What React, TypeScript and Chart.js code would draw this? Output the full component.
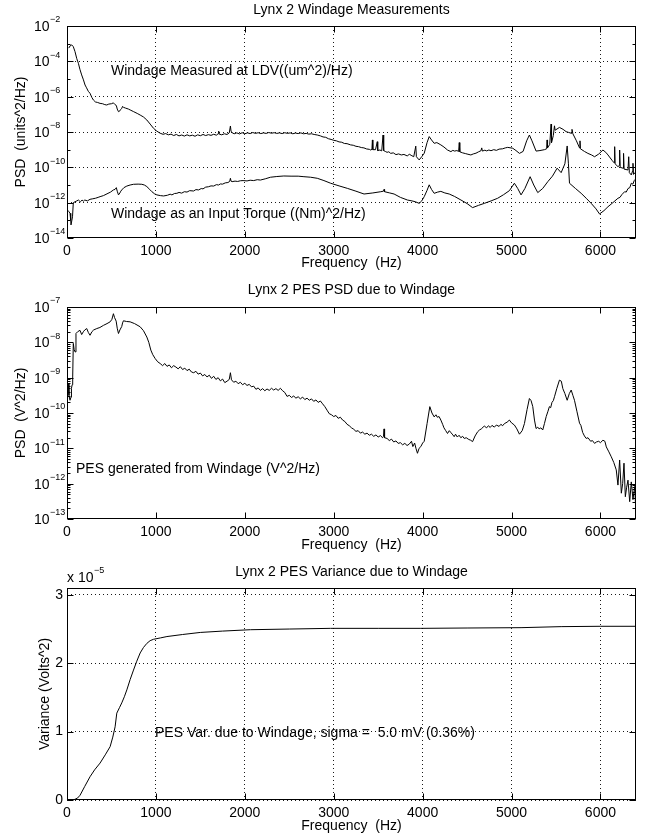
import React, { useEffect, useRef } from "react";
import { Chart, registerables } from "chart.js";

Chart.register(...registerables);

const FONT = '"Liberation Sans", Arial, Helvetica, sans-serif';

// ---------- shared axis data ----------
const freqTicks = [0, 1000, 2000, 3000, 4000, 5000, 6000];

// ---------- panel 1: Lynx 2 Windage Measurements (log10 of PSD) ----------
const topTitle = "Lynx 2 Windage Measurements";
const topYLabel = "PSD  (units^2/Hz)";
const topLabelExps = [-2, -4, -6, -8, -10, -12, -14];
const topGridExps = [-4, -6, -8, -10, -12];
const topMinorExps = [-3, -5, -7, -9, -11, -13];
const ldvLabel = "Windage Measured at LDV((um^2)/Hz)";
const torqueLabel = "Windage as an Input Torque ((Nm)^2/Hz)";

// [frequency Hz, log10 PSD]
const ldvPsdLog10: [number, number][] = [
  [20, -3.25], [34, -3.13], [53, -3.07], [71, -3.17], [90, -3.45], [110, -3.85], [128, -4.11], [145, -4.45],
  [165, -4.77], [185, -5.05], [203, -5.34], [220, -5.5], [240, -5.7], [259, -5.81], [280, -6.05], [297, -6.19],
  [320, -6.3], [345, -6.33], [372, -6.38], [400, -6.4], [425, -6.45], [447, -6.47], [470, -6.42], [500, -6.4],
  [522, -6.35], [540, -6.45], [555, -6.5], [565, -6.7], [579, -6.85], [595, -6.8], [605, -6.72], [616, -6.66],
  [625, -6.55], [634, -6.6], [660, -6.65], [690, -6.7], [710, -6.75], [750, -6.85], [790, -6.95], [823, -7.04],
  [860, -7.15], [898, -7.32], [935, -7.55], [973, -7.79], [1010, -7.95], [1048, -8.07], [1080, -8.13], [1110, -8.09],
  [1140, -8.16], [1170, -8.12], [1200, -8.2], [1230, -8.14], [1260, -8.22], [1290, -8.17], [1320, -8.23], [1350, -8.16],
  [1380, -8.22], [1410, -8.18], [1440, -8.24], [1470, -8.16], [1500, -8.21], [1530, -8.14], [1560, -8.2], [1590, -8.15],
  [1620, -8.19], [1650, -8.13], [1680, -8.18], [1700, -8.1], [1706, -7.95], [1712, -8.12], [1740, -8.16], [1770, -8.1],
  [1800, -8.14], [1825, -8.05], [1838, -7.66], [1845, -7.95], [1857, -8.04], [1880, -8.1], [1910, -8.05], [1940, -8.11],
  [1970, -8.04], [2000, -8.1], [2030, -8.05], [2060, -8.09], [2090, -8.03], [2120, -8.08], [2150, -8.04], [2180, -8.09],
  [2210, -8.05], [2240, -8.08], [2270, -8.03], [2300, -8.07], [2330, -8.04], [2360, -8.08], [2390, -8.05], [2420, -8.09],
  [2450, -8.04], [2480, -8.08], [2510, -8.05], [2540, -8.1], [2570, -8.06], [2600, -8.09], [2630, -8.05], [2660, -8.1],
  [2690, -8.08], [2720, -8.12], [2750, -8.1], [2780, -8.14], [2815, -8.17], [2850, -8.22], [2880, -8.28], [2910, -8.3],
  [2940, -8.38], [2970, -8.42], [3000, -8.47], [3030, -8.5], [3060, -8.56], [3090, -8.58], [3120, -8.65], [3150, -8.66],
  [3190, -8.73], [3220, -8.75], [3250, -8.81], [3280, -8.83], [3310, -8.88], [3340, -8.9], [3370, -8.96], [3400, -8.98],
  [3416, -9.02], [3430, -8.98], [3435, -8.45], [3440, -9.0], [3470, -9.0], [3490, -8.55], [3495, -9.05], [3520, -9.02],
  [3540, -9.07], [3555, -8.17], [3562, -9.05], [3580, -9.1], [3600, -9.15], [3620, -9.12], [3641, -9.21], [3670, -9.18],
  [3700, -9.28], [3730, -9.24], [3760, -9.3], [3790, -9.27], [3829, -9.36], [3850, -9.25], [3870, -9.32], [3900, -9.4],
  [3923, -8.8], [3930, -9.4], [3961, -9.58], [3990, -9.4], [4018, -9.2], [4050, -8.6], [4074, -8.26], [4100, -8.45],
  [4130, -8.64], [4160, -8.6], [4205, -8.73], [4240, -8.85], [4280, -9.02], [4318, -9.11], [4340, -9.04], [4360, -9.08],
  [4385, -9.05], [4405, -9.1], [4412, -8.6], [4418, -9.12], [4450, -9.18], [4480, -9.22], [4510, -9.26], [4543, -9.3],
  [4570, -9.24], [4600, -9.2], [4630, -9.12], [4656, -9.06], [4665, -8.9], [4672, -9.08], [4700, -9.03], [4720, -9.07],
  [4745, -9.02], [4769, -9.06], [4800, -9.0], [4830, -9.04], [4860, -8.97], [4900, -8.95], [4930, -8.9], [4957, -8.87],
  [5014, -8.92], [5050, -9.05], [5089, -9.21], [5130, -9.1], [5170, -8.5], [5201, -8.17], [5230, -8.5], [5276, -9.08],
  [5320, -9.05], [5370, -9.0], [5395, -8.95], [5400, -8.45], [5405, -8.9], [5430, -8.7], [5445, -7.55], [5450, -8.6],
  [5470, -8.2], [5483, -7.65], [5490, -7.9], [5539, -7.74], [5580, -7.85], [5614, -7.98], [5640, -8.02], [5671, -8.07],
  [5680, -7.85], [5690, -8.1], [5730, -8.5], [5765, -8.9], [5770, -8.5], [5775, -8.95], [5820, -9.1], [5859, -9.21],
  [5900, -9.3], [5934, -9.4], [5980, -9.25], [6028, -9.02], [6060, -9.15], [6085, -9.3], [6130, -9.6], [6155, -9.75],
  [6160, -8.83], [6165, -9.8], [6197, -9.96], [6212, -9.9], [6216, -9.02], [6222, -10.0], [6254, -10.05], [6260, -9.21],
  [6266, -10.1], [6310, -10.15], [6318, -9.4], [6325, -10.3], [6347, -10.43], [6362, -10.2], [6366, -9.77], [6372, -10.4],
  [6390, -10.3], [6404, -10.5],
];

const torquePsdLog10: [number, number][] = [
  [3, -12.41], [20, -12.5], [34, -12.6], [42, -13.0], [45, -13.26], [56, -13.26], [62, -12.8], [71, -12.0],
  [90, -11.95], [110, -11.9], [128, -11.85], [150, -11.95], [170, -11.85], [184, -11.92], [200, -11.85], [230, -11.9],
  [259, -11.81], [290, -11.78], [320, -11.75], [350, -11.7], [372, -11.66], [410, -11.6], [450, -11.5], [490, -11.4],
  [522, -11.28], [540, -11.25], [555, -11.15], [565, -11.35], [579, -11.56], [595, -11.45], [605, -11.35], [616, -11.28],
  [640, -11.15], [673, -11.06], [710, -11.0], [748, -10.96], [800, -10.95], [841, -10.96], [870, -11.0], [898, -11.09],
  [930, -11.25], [955, -11.38], [985, -11.5], [1011, -11.56], [1050, -11.6], [1086, -11.62], [1130, -11.58], [1160, -11.52],
  [1180, -11.56], [1210, -11.48], [1236, -11.47], [1260, -11.42], [1290, -11.46], [1320, -11.38], [1350, -11.4], [1380, -11.32],
  [1424, -11.34], [1450, -11.26], [1480, -11.28], [1510, -11.2], [1530, -11.22], [1560, -11.12], [1590, -11.1], [1620, -11.05],
  [1650, -11.06], [1680, -10.98], [1705, -11.0], [1725, -10.94], [1750, -10.95], [1780, -10.88], [1810, -10.86], [1830, -10.8],
  [1838, -10.62], [1845, -10.78], [1857, -10.81], [1890, -10.78], [1920, -10.8], [1950, -10.76], [1980, -10.75], [2025, -10.77],
  [2060, -10.73], [2100, -10.75], [2140, -10.7], [2175, -10.72], [2230, -10.65], [2289, -10.56], [2360, -10.52], [2439, -10.49],
  [2520, -10.5], [2600, -10.5], [2665, -10.53], [2740, -10.56], [2815, -10.62], [2890, -10.75], [2965, -10.9], [3060, -11.05],
  [3153, -11.19], [3250, -11.35], [3341, -11.51], [3440, -11.45], [3529, -11.38], [3560, -11.35], [3566, -11.25], [3572, -11.38],
  [3630, -11.45], [3679, -11.51], [3750, -11.7], [3829, -11.85], [3880, -11.9], [3920, -11.95], [3961, -12.04], [3990, -11.9],
  [4018, -11.66], [4050, -11.3], [4074, -10.99], [4100, -11.25], [4130, -11.47], [4170, -11.4], [4205, -11.36], [4250, -11.45],
  [4299, -11.51], [4360, -11.65], [4431, -11.85], [4500, -12.05], [4562, -12.28], [4630, -12.15], [4694, -12.04], [4770, -11.9],
  [4844, -11.75], [4910, -11.55], [4976, -11.32], [5032, -10.9], [5070, -11.2], [5107, -11.56], [5150, -11.2], [5209, -10.53],
  [5250, -11.0], [5295, -11.43], [5350, -11.2], [5408, -10.81], [5460, -10.5], [5513, -10.05], [5558, -10.3], [5600, -9.8],
  [5626, -8.79], [5640, -9.8], [5652, -10.9], [5720, -11.2], [5783, -11.47], [5840, -11.75], [5896, -12.04], [5950, -12.35],
  [5990, -12.64], [6040, -12.45], [6085, -12.23], [6140, -12.0], [6197, -11.75], [6220, -11.7], [6240, -11.55], [6272, -11.38],
  [6290, -11.4], [6310, -11.2], [6330, -11.15], [6347, -10.9], [6365, -10.95], [6380, -10.75], [6404, -10.62],
];

// ---------- panel 2: Lynx 2 PES PSD due to Windage (log10 of PSD) ----------
const midTitle = "Lynx 2 PES PSD due to Windage";
const midYLabel = "PSD  (V^2/Hz)";
const midLabelExps = [-7, -8, -9, -10, -11, -12, -13];
const pesLabel = "PES generated from Windage (V^2/Hz)";

const pesPsdLog10: [number, number][] = [
  [0, -9.6], [3, -9.54], [10, -9.2], [15, -9.16], [22, -9.5], [34, -9.64], [45, -9.55], [50, -9.3],
  [58, -9.2], [64, -8.98], [71, -8.03], [80, -8.2], [90, -8.27], [101, -7.75], [120, -7.7], [146, -7.66],
  [165, -7.78], [184, -7.7], [200, -7.65], [222, -7.61], [240, -7.72], [259, -7.8], [280, -7.7], [300, -7.65],
  [335, -7.61], [370, -7.58], [410, -7.52], [450, -7.47], [485, -7.42], [505, -7.35], [522, -7.19], [535, -7.3],
  [553, -7.4], [565, -7.6], [579, -7.75], [595, -7.65], [616, -7.55], [625, -7.45], [635, -7.39], [670, -7.41],
  [710, -7.42], [760, -7.47], [823, -7.56], [860, -7.67], [898, -7.85], [920, -8.0], [943, -8.22], [965, -8.35],
  [992, -8.46], [1020, -8.55], [1048, -8.6], [1075, -8.66], [1100, -8.6], [1125, -8.68], [1150, -8.64], [1175, -8.72],
  [1200, -8.66], [1225, -8.7], [1250, -8.75], [1275, -8.69], [1300, -8.77], [1325, -8.73], [1350, -8.8], [1375, -8.76],
  [1400, -8.84], [1425, -8.86], [1450, -8.82], [1475, -8.9], [1500, -8.87], [1525, -8.95], [1550, -8.91], [1575, -8.98],
  [1600, -8.93], [1625, -9.02], [1650, -8.96], [1675, -9.05], [1700, -9.0], [1725, -9.09], [1750, -9.04], [1775, -9.14],
  [1800, -9.1], [1825, -9.05], [1838, -8.86], [1850, -9.06], [1875, -9.13], [1900, -9.1], [1925, -9.17], [1950, -9.13],
  [1975, -9.2], [2000, -9.16], [2025, -9.22], [2050, -9.19], [2075, -9.26], [2100, -9.24], [2125, -9.33], [2150, -9.29],
  [2175, -9.36], [2200, -9.31], [2225, -9.37], [2250, -9.32], [2275, -9.36], [2300, -9.3], [2325, -9.35], [2350, -9.31],
  [2375, -9.36], [2400, -9.3], [2425, -9.37], [2450, -9.42], [2475, -9.53], [2500, -9.5], [2525, -9.56], [2550, -9.52],
  [2575, -9.58], [2600, -9.54], [2625, -9.6], [2650, -9.55], [2675, -9.62], [2700, -9.58], [2725, -9.64], [2750, -9.6],
  [2775, -9.67], [2800, -9.63], [2825, -9.7], [2850, -9.66], [2875, -9.74], [2900, -9.82], [2925, -9.92], [2950, -10.02],
  [2975, -10.05], [3000, -10.1], [3025, -10.07], [3050, -10.15], [3075, -10.12], [3100, -10.2], [3125, -10.24], [3150, -10.32],
  [3175, -10.36], [3200, -10.42], [3225, -10.46], [3250, -10.52], [3275, -10.5], [3300, -10.57], [3325, -10.54], [3350, -10.6],
  [3375, -10.57], [3400, -10.63], [3425, -10.6], [3450, -10.66], [3475, -10.62], [3500, -10.68], [3525, -10.64], [3550, -10.7],
  [3560, -10.66], [3566, -10.45], [3572, -10.7], [3600, -10.72], [3625, -10.78], [3650, -10.74], [3675, -10.82], [3700, -10.79],
  [3725, -10.86], [3750, -10.84], [3775, -10.9], [3800, -10.86], [3825, -10.92], [3850, -10.88], [3875, -10.8], [3890, -10.95],
  [3910, -10.85], [3925, -11.0], [3942, -11.14], [3960, -11.0], [3980, -10.95], [4000, -10.85], [4018, -10.8], [4050, -10.3],
  [4081, -9.82], [4105, -10.0], [4130, -10.11], [4150, -10.05], [4165, -10.12], [4185, -10.1], [4205, -10.2], [4225, -10.32],
  [4240, -10.42], [4260, -10.5], [4280, -10.58], [4300, -10.5], [4320, -10.56], [4340, -10.62], [4355, -10.67], [4370, -10.6],
  [4390, -10.68], [4410, -10.63], [4430, -10.7], [4450, -10.66], [4468, -10.72], [4490, -10.7], [4520, -10.75], [4540, -10.77],
  [4562, -10.81], [4590, -10.65], [4619, -10.53], [4640, -10.48], [4660, -10.45], [4680, -10.4], [4694, -10.37], [4720, -10.42],
  [4740, -10.36], [4760, -10.41], [4780, -10.35], [4807, -10.4], [4830, -10.34], [4860, -10.38], [4880, -10.32], [4900, -10.36],
  [4920, -10.3], [4950, -10.26], [4976, -10.2], [5000, -10.28], [5032, -10.34], [5060, -10.45], [5089, -10.6], [5120, -10.5],
  [5145, -10.3], [5175, -9.9], [5201, -9.59], [5220, -9.65], [5239, -9.82], [5258, -10.2], [5276, -10.44], [5295, -10.4],
  [5310, -10.45], [5330, -10.42], [5351, -10.48], [5370, -10.3], [5390, -10.1], [5410, -9.95], [5426, -9.82], [5440, -9.85],
  [5455, -9.7], [5470, -9.65], [5483, -9.54], [5510, -9.3], [5539, -9.07], [5560, -9.1], [5577, -9.31], [5600, -9.45],
  [5626, -9.64], [5650, -9.45], [5671, -9.35], [5690, -9.5], [5708, -9.64], [5735, -9.95], [5765, -10.29], [5780, -10.35],
  [5800, -10.55], [5820, -10.65], [5840, -10.72], [5860, -10.7], [5890, -10.8], [5910, -10.78], [5934, -10.86], [5955, -10.82],
  [5980, -10.8], [6000, -10.84], [6028, -10.77], [6050, -10.8], [6066, -10.96], [6095, -11.1], [6122, -11.24], [6150, -11.4],
  [6178, -11.61], [6197, -12.04], [6216, -11.33], [6235, -12.27], [6250, -12.0], [6265, -11.42], [6280, -12.37], [6295, -12.1],
  [6310, -11.9], [6329, -12.51], [6347, -11.95], [6366, -12.45], [6385, -12.08], [6395, -12.6], [6404, -12.74],
];

// ---------- panel 3: Lynx 2 PES Variance due to Windage (units of 1e-5 V^2) ----------
const botTitle = "Lynx 2 PES Variance due to Windage";
const botYLabel = "Variance (Volts^2)";
const botYTicks = [0, 1, 2, 3];
const varLabel = "PES Var. due to Windage, sigma =  5.0 mV (0.36%)";

const varianceE5: [number, number][] = [
  [0, 0], [60, 0], [90, 0.01], [120, 0.03], [147, 0.07], [200, 0.2], [259, 0.34], [310, 0.44],
  [372, 0.54], [430, 0.66], [485, 0.78], [515, 0.92], [541, 1.07], [560, 1.27], [590, 1.35], [616, 1.42],
  [645, 1.51], [673, 1.61], [710, 1.76], [748, 1.9], [785, 2.03], [823, 2.15], [860, 2.23], [898, 2.29],
  [935, 2.33], [973, 2.35], [1050, 2.37], [1124, 2.39], [1300, 2.42], [1499, 2.45], [1750, 2.47], [2063, 2.49],
  [2500, 2.5], [2965, 2.51], [3500, 2.51], [3980, 2.51], [4500, 2.515], [5107, 2.52], [5558, 2.535], [6000, 2.54],
  [6400, 2.54],
];

const W = 649;
const H = 280;

type Annot = { text: string; x: number; y: number };

function drawPow(ctx: CanvasRenderingContext2D, x: number, y: number, exp: number, lead = "10") {
  ctx.textAlign = "left";
  ctx.textBaseline = "middle";
  ctx.font = `14px ${FONT}`;
  ctx.fillText(lead, x, y + 1);
  const w = ctx.measureText(lead).width;
  ctx.font = `9px ${FONT}`;
  ctx.fillText((exp < 0 ? "\u2212" : "") + Math.abs(exp), x + w + 0.5, y - 6);
}

function makeFrame(opts: {
  id: string;
  yMajor: number[];
  yMinor: number[];
  logLabels?: number[];
  annots: Annot[];
  extra?: (ctx: CanvasRenderingContext2D) => void;
}) {
  return {
    id: opts.id,
    afterDatasetsDraw(chart: any) {
      const { ctx, chartArea: a, scales } = chart;
      const xs = scales.x;
      const ys = scales.y;
      ctx.save();
      ctx.strokeStyle = "#000";
      ctx.fillStyle = "#000";
      ctx.lineWidth = 1;
      const L = Math.round(a.left) + 0.5;
      const R = Math.round(a.right) - 0.5;
      const T = Math.round(a.top) + 0.5;
      const B = Math.round(a.bottom) - 0.5;
      ctx.setLineDash([]);
      ctx.strokeRect(L, T, R - L, B - T);
      ctx.beginPath();
      for (const v of freqTicks) {
        const px = Math.round(xs.getPixelForValue(v)) + 0.5;
        ctx.moveTo(px, B);
        ctx.lineTo(px, B - 6);
        ctx.moveTo(px, T);
        ctx.lineTo(px, T + 6);
      }
      for (const v of opts.yMajor) {
        const py = Math.round(ys.getPixelForValue(v)) + 0.5;
        ctx.moveTo(L, py);
        ctx.lineTo(L + 6, py);
        ctx.moveTo(R, py);
        ctx.lineTo(R - 6, py);
      }
      for (const v of opts.yMinor) {
        const py = Math.round(ys.getPixelForValue(v)) + 0.5;
        ctx.moveTo(L, py);
        ctx.lineTo(L + 3, py);
        ctx.moveTo(R, py);
        ctx.lineTo(R - 3, py);
      }
      ctx.stroke();
      if (opts.logLabels) {
        for (const e of opts.logLabels) {
          const py = ys.getPixelForValue(Math.pow(10, e));
          drawPow(ctx, 34, py, e);
        }
      }
      ctx.font = `14px ${FONT}`;
      ctx.textAlign = "left";
      ctx.textBaseline = "middle";
      for (const an of opts.annots) ctx.fillText(an.text, an.x, an.y);
      if (opts.extra) opts.extra(ctx);
      ctx.restore();
    },
  };
}

function baseOptions(p: {
  title: string;
  titlePad: { top: number; bottom: number };
  xHeight: number;
  xTitlePad: number;
  yTitle: string;
  yTitlePad: number;
  y: any;
  grid: boolean;
}) {
  const font = { family: FONT, size: 14 };
  const gridOpts = { display: p.grid, drawTicks: false, color: "rgba(0,0,0,0.9)", lineWidth: 1 };
  return {
    responsive: false,
    animation: false as const,
    events: [],
    layout: { padding: { left: 0, right: 13, top: 0, bottom: 0 } },
    plugins: {
      legend: { display: false },
      tooltip: { enabled: false },
      title: {
        display: true,
        text: p.title,
        color: "#000",
        fullSize: false,
        font: { ...font, weight: "normal" as const },
        padding: p.titlePad,
      },
    },
    scales: {
      x: {
        type: "linear" as const,
        min: 0,
        max: 6400,
        afterBuildTicks: (s: any) => {
          s.ticks = freqTicks.map((v) => ({ value: v }));
        },
        afterFit: (s: any) => {
          s.height = p.xHeight;
        },
        grid: gridOpts,
        border: { display: false, dash: [1, 3] },
        ticks: {
          color: "#000",
          font,
          padding: 5,
          maxRotation: 0,
          autoSkip: false,
          callback: (v: any) => String(v),
        },
        title: {
          display: true,
          text: "Frequency  (Hz)",
          color: "#000",
          font,
          padding: { top: 0, bottom: p.xTitlePad },
        },
      },
      y: {
        ...p.y,
        afterFit: (s: any) => {
          s.width = 67;
        },
        grid: gridOpts,
        border: { display: false, dash: [1, 3] },
        title: {
          display: true,
          text: p.yTitle,
          color: "#000",
          font,
          padding: { top: p.yTitlePad, bottom: 0 },
        },
      },
    },
  };
}

function lineDs(points: [number, number][], log: boolean) {
  return {
    data: points.map(([f, v]) => ({ x: f, y: log ? Math.pow(10, v) : v })),
    borderColor: "#000",
    borderWidth: 1,
    pointRadius: 0,
    tension: 0,
    fill: false,
  };
}

export default function App() {
  const r1 = useRef<HTMLCanvasElement>(null);
  const r2 = useRef<HTMLCanvasElement>(null);
  const r3 = useRef<HTMLCanvasElement>(null);

  useEffect(() => {
    const charts: Chart[] = [];

    charts.push(
      new Chart(r1.current!, {
        type: "line",
        data: { datasets: [lineDs(ldvPsdLog10, true), lineDs(torquePsdLog10, true)] as any },
        options: baseOptions({
          title: topTitle,
          titlePad: { top: 1.6, bottom: 7.6 },
          xHeight: 42,
          xTitlePad: 8.6,
          yTitle: topYLabel,
          yTitlePad: 12.6,
          grid: true,
          y: {
            type: "logarithmic",
            min: 1e-14,
            max: 1e-2,
            afterBuildTicks: (s: any) => {
              s.ticks = topGridExps.map((e) => ({ value: Math.pow(10, e) }));
            },
            ticks: { display: false },
          },
        }) as any,
        plugins: [
          makeFrame({
            id: "frame1",
            yMajor: topLabelExps.map((e) => Math.pow(10, e)),
            yMinor: topMinorExps.map((e) => Math.pow(10, e)),
            logLabels: topLabelExps,
            annots: [
              { text: ldvLabel, x: 111, y: 71 },
              { text: torqueLabel, x: 111, y: 214 },
            ],
          }),
        ],
      })
    );

    const midMinor: number[] = [];
    for (let e = -13; e < -7; e++) for (let m = 2; m <= 9; m++) midMinor.push(m * Math.pow(10, e));
    charts.push(
      new Chart(r2.current!, {
        type: "line",
        data: { datasets: [lineDs(pesPsdLog10, true)] as any },
        options: baseOptions({
          title: midTitle,
          titlePad: { top: 2.1, bottom: 8.1 },
          xHeight: 41,
          xTitlePad: 6.1,
          yTitle: midYLabel,
          yTitlePad: 12.6,
          grid: false,
          y: {
            type: "logarithmic",
            min: 1e-13,
            max: 1e-7,
            afterBuildTicks: (s: any) => {
              s.ticks = midLabelExps.map((e) => ({ value: Math.pow(10, e) }));
            },
            ticks: { display: false },
          },
        }) as any,
        plugins: [
          makeFrame({
            id: "frame2",
            yMajor: midLabelExps.map((e) => Math.pow(10, e)),
            yMinor: midMinor,
            logLabels: midLabelExps,
            annots: [{ text: pesLabel, x: 76, y: 189 }],
          }),
        ],
      })
    );

    charts.push(
      new Chart(r3.current!, {
        type: "line",
        data: { datasets: [lineDs(varianceE5, false)] as any },
        options: baseOptions({
          title: botTitle,
          titlePad: { top: 3.3, bottom: 7.9 },
          xHeight: 40,
          xTitlePad: 5.6,
          yTitle: botYLabel,
          yTitlePad: 36.6,
          grid: true,
          y: {
            type: "linear",
            min: 0,
            max: 3.1,
            afterBuildTicks: (s: any) => {
              s.ticks = botYTicks.map((v) => ({ value: v }));
            },
            ticks: {
              color: "#000",
              font: { family: FONT, size: 14 },
              padding: 4,
              callback: (v: any) => String(v),
            },
          },
        }) as any,
        plugins: [
          makeFrame({
            id: "frame3",
            yMajor: botYTicks,
            yMinor: [],
            annots: [{ text: varLabel, x: 155, y: 173 }],
            extra: (ctx) => {
              ctx.fillStyle = "#000";
              drawPow(ctx, 67, 17, -5, "x 10");
            },
          }),
        ],
      })
    );

    return () => charts.forEach((c) => c.destroy());
  }, []);

  const cs: React.CSSProperties = { position: "absolute", left: 0, display: "block" };
  return (
    <div style={{ position: "absolute", left: 0, top: 0, width: W, height: 840, background: "#fff" }}>
      <canvas ref={r1} width={W} height={H} style={{ ...cs, top: 0 }} />
      <canvas ref={r2} width={W} height={H} style={{ ...cs, top: 280 }} />
      <canvas ref={r3} width={W} height={H} style={{ ...cs, top: 560 }} />
    </div>
  );
}
